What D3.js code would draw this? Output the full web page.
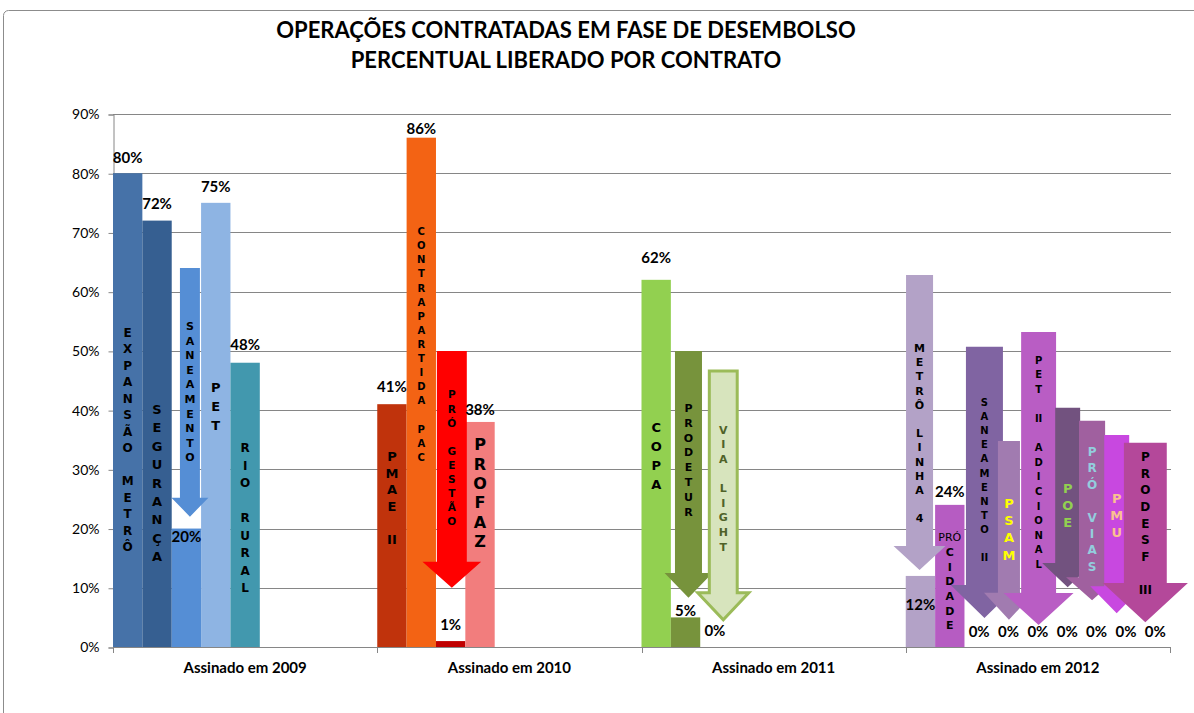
<!DOCTYPE html>
<html>
<head>
<meta charset="utf-8">
<script src="https://cdn.jsdelivr.net/npm/d3@7"></script>
<style>
  body { margin: 0; background: #fff; }
  text { fill: #000; }
</style>
</head>
<body>
<svg id="chart" width="1194" height="713"></svg>
<script>
var titleLines = ["OPERAÇÕES CONTRATADAS EM FASE DE DESEMBOLSO", "PERCENTUAL LIBERADO POR CONTRATO"];

var groups = ["Assinado em 2009", "Assinado em 2010", "Assinado em 2011", "Assinado em 2012"];

var contracts = ["EXPANSÃO METRÔ", "SEGURANÇA", "SANEAMENTO", "PET", "RIO RURAL",
  "PMAE II", "CONTRAPARTIDA PAC", "PRÓ GESTÃO", "PROFAZ",
  "COPA", "PRODETUR", "VIA LIGHT",
  "METRÔ LINHA 4", "PRÓ CIDADE", "SANEAMENTO II", "PSAM", "PET II ADICIONAL", "POE", "PRÓ VIAS", "PMU", "PRODESF III"];

var contractGroup = [0, 0, 0, 0, 0, 1, 1, 1, 1, 2, 2, 2, 3, 3, 3, 3, 3, 3, 3, 3, 3];

var released = [0.80, 0.72, 0.20, 0.75, 0.48,
  0.41, 0.86, 0.01, 0.38,
  0.62, 0.05, 0,
  0.12, 0.24, 0, 0, 0, 0, 0, 0, 0];

/* arrows drawn over some of the bars: where the shaft starts and where the tip lands */
var arrowFrom = [null, null, 0.64, null, null,
  null, null, 0.50, null,
  null, 0.50, 0.466,
  0.628, null, 0.507, 0.348, 0.532, 0.404, 0.382, 0.358, 0.345];
var arrowTo = [null, null, 0.22, null, null,
  null, null, 0.10, null,
  null, 0.083, 0.046,
  0.13, null, 0.049, 0.046, 0.037, 0.101, 0.079, 0.057, 0.042];

var yTicks = [0, 0.1, 0.2, 0.3, 0.4, 0.5, 0.6, 0.7, 0.8, 0.9];

var slotsPerGroup = 9;

/* styles: bar fill, arrow fill, letter colour */
var barColors = ["#4672a8", "#365f91", "#558ed5", "#8eb4e3", "#4298ae",
  "#c0330c", "#f36314", "#c00000", "#f27d7d",
  "#92d050", "#77933c", "#d7e4bd",
  "#b3a2c7", "#b65cc2", "#8064a2", "#a17bb0", "#b95dc4", "#72527f", "#a0609f", "#c848e0", "#b4489a"];
var arrowColors = [null, null, "#558ed5", null, null,
  null, null, "#ff0000", null,
  null, "#77933c", "#d7e4bd",
  "#b3a2c7", null, "#8064a2", "#a17bb0", "#b95dc4", "#72527f", "#a0609f", "#c848e0", "#b4489a"];
var letterColors = ["#000", "#000", "#000", "#000", "#000",
  "#000", "#000", "#000", "#000",
  "#000", "#000", "#4f6228",
  "#000", "#000", "#000", "#ffff00", "#000", "#92d050", "#93cddd", "#fac090", "#000"];

/* layout of the vertical words and arrows, hand placed like the original shapes:
   lc = centre of the word column (axis units), lh = line step, fs = font size,
   ld = value label offset from bar top, ao/aw = shaft offset/width, hw/hh = head size (in slot widths) */
var layout = [
  {lc: 0.350, lh: 16.5, fs: 12, ld: -16},
  {lc: 0.277, lh: 18.4, fs: 13, ld: -17},
  {lc: 0.431, lh: 14.6, fs: 11, ld: 8, ao: 0.28, aw: 0.68, hw: 1.26, hh: 0.65},
  {lc: 0.407, lh: 19, fs: 13, ld: -16},
  {lc: 0.218, lh: 17.5, fs: 12, ld: -18},
  {lc: 0.252, lh: 16.6, fs: 13, ld: -18},
  {lc: 0.511, lh: 14.1, fs: 10, ld: -9},
  {lc: 0.319, lh: 14.1, fs: 10.5, ld: -16, ao: 0.03, aw: 1.02, hw: 2.0, hh: 0.89},
  {lc: 0.260, lh: 19.4, fs: 16, ld: -12},
  {lc: 0.323, lh: 19, fs: 13, ld: -22},
  {lc: 0.316, lh: 14.8, fs: 11, ld: -7, ao: 0.14, aw: 0.92, hw: 1.63, hh: 0.85},
  {lc: 0.268, lh: 14.6, fs: 11, ld: -16, ao: 0.31, aw: 0.95, hw: 1.74, hh: 0.92, outline: "#9bbb59"},
  {lc: 0.361, lh: 14.2, fs: 11, ld: 29, ao: 0.01, aw: 0.92, hw: 1.77, hh: 0.82},
  {lc: 0.111, lh: 14.7, fs: 11, ld: -13, lead: true},
  {lc: 0.282, lh: 14.1, fs: 10, ld: -15, ao: 0.05, aw: 1.26, hw: 2.3, hh: 1.12},
  {lc: 0.199, lh: 17.3, fs: 13, ld: -15, ao: 0.14, aw: 0.75, hw: 1.7, hh: 0.92},
  {lc: 0.312, lh: 14.6, fs: 10, ld: -15, ao: -0.07, aw: 1.19, hw: 2.38, hh: 1.09},
  {lc: 0.240, lh: 17, fs: 13, ld: -15, ao: 0.09, aw: 0.85, hw: 1.74, hh: 0.82},
  {lc: 0.233, lh: 16.4, fs: 12, ld: -15, ao: -0.1, aw: 0.89, hw: 1.77, hh: 0.78},
  {lc: 0.223, lh: 17, fs: 13, ld: -15, ao: -0.24, aw: 0.85, hw: 1.8, hh: 0.92},
  {lc: 0.209, lh: 16.6, fs: 12, ld: -15, ao: -0.57, aw: 1.46, hw: 2.9, hh: 1.33}
];

var svg = d3.select("#chart");
var plotLeft = 113, plotRight = 1170, plotTop = 114, plotBottom = 647;
var gridColor = "#868686";
var numFont = "Lato, 'Open Sans', sans-serif";
var letterFont = "'DejaVu Sans', Verdana, sans-serif";

var x = d3.scaleBand().domain(groups).range([plotLeft, plotRight]);
var slot = d3.scaleBand().domain(d3.range(slotsPerGroup)).range([0, x.bandwidth()]);
var y = d3.scaleLinear().domain([0, 0.9]).range([plotBottom, plotTop]);
var bw = slot.bandwidth();

/* slot index of each contract inside its group */
var counter = {};
var items = contracts.map(function(name, i) {
  var g = contractGroup[i];
  counter[g] = (counter[g] || 0);
  var s = counter[g]++;
  return {name: name, i: i, group: groups[g], slot: s, value: released[i],
    from: arrowFrom[i], to: arrowTo[i], left: x(groups[g]) + slot(s)};
});

/* frame */
svg.append("rect")
  .attr("x", 3.5).attr("y", 10.5)
  .attr("width", 1200).attr("height", 710)
  .attr("rx", 5)
  .attr("fill", "#fff")
  .attr("stroke", "#8c8c8c");

/* title */
svg.append("g").selectAll("text").data(titleLines).enter().append("text")
  .attr("x", 566)
  .attr("y", function(d, i) { return 38 + i * 30; })
  .attr("text-anchor", "middle")
  .attr("font-family", numFont)
  .attr("font-weight", "bold")
  .attr("font-size", 22)
  .text(function(d) { return d; });

/* gridlines */
svg.append("g")
  .selectAll("line").data(yTicks.filter(function(d) { return d > 0; })).enter().append("line")
  .attr("x1", plotLeft).attr("x2", plotRight + 1)
  .attr("y1", function(d) { return Math.round(y(d)) + 0.5; })
  .attr("y2", function(d) { return Math.round(y(d)) + 0.5; })
  .attr("stroke", gridColor);

/* y axis */
var yAxis = svg.append("g")
  .attr("transform", "translate(" + (plotLeft + 0.5) + ",0.5)")
  .call(d3.axisLeft(y).tickValues(yTicks).tickFormat(d3.format(".0%")).tickSize(5).tickPadding(9));
yAxis.select(".domain").attr("stroke", gridColor);
yAxis.selectAll(".tick line").attr("stroke", gridColor);
yAxis.selectAll(".tick text").attr("font-family", numFont).attr("font-size", 14).attr("fill", "#000");

/* bars */
svg.append("g").selectAll("rect").data(items.filter(function(d) { return d.value > 0; })).enter().append("rect")
  .attr("x", function(d) { return d.left; })
  .attr("width", bw)
  .attr("y", function(d) { return y(d.value); })
  .attr("height", function(d) { return y(0) - y(d.value); })
  .attr("fill", function(d) { return barColors[d.i]; });

/* arrows */
function arrowPath(d) {
  var L = layout[d.i];
  var x0 = d.left + L.ao * bw, x1 = x0 + L.aw * bw, cx = (x0 + x1) / 2;
  var t = y(d.from), tip = y(d.to), ht = tip - L.hh * bw, hw = L.hw * bw / 2;
  return "M" + x0 + "," + t + "L" + x1 + "," + t + "L" + x1 + "," + ht +
    "L" + (cx + hw) + "," + ht + "L" + cx + "," + tip + "L" + (cx - hw) + "," + ht +
    "L" + x0 + "," + ht + "Z";
}
svg.append("g").selectAll("path").data(items.filter(function(d) { return d.from != null; })).enter().append("path")
  .attr("d", arrowPath)
  .attr("fill", function(d) { return arrowColors[d.i]; })
  .attr("stroke", function(d) { return layout[d.i].outline || "none"; })
  .attr("stroke-width", 3)
  .attr("stroke-linejoin", "miter");

/* x axis */
svg.append("line")
  .attr("x1", plotLeft).attr("x2", plotRight + 1)
  .attr("y1", plotBottom + 0.5).attr("y2", plotBottom + 0.5)
  .attr("stroke", gridColor);
svg.append("g").selectAll("line").data(groups.concat([null])).enter().append("line")
  .attr("x1", function(d) { return Math.round(d ? x(d) : plotRight) + 0.5; })
  .attr("x2", function(d) { return Math.round(d ? x(d) : plotRight) + 0.5; })
  .attr("y1", plotBottom).attr("y2", plotBottom + 6)
  .attr("stroke", gridColor);
var xAxis = svg.append("g")
  .attr("transform", "translate(0," + plotBottom + ")")
  .call(d3.axisBottom(x).tickSize(0).tickPadding(15));
xAxis.select(".domain").remove();
xAxis.selectAll(".tick text").attr("font-family", numFont).attr("font-size", 15)
  .attr("font-weight", "bold").attr("fill", "#000");

/* vertical words */
function wordLines(name, lead) {
  var lines = [];
  name.split(" ").forEach(function(w, k) {
    if (k === 0 && lead) { lines.push({t: w, plain: true}); return; }
    if (k > 0 && !(k === 1 && lead)) lines.push({t: ""});
    if (/^I+$/.test(w)) lines.push({t: w});
    else w.split("").forEach(function(c) { lines.push({t: c}); });
  });
  return lines;
}
items.forEach(function(d) {
  var L = layout[d.i];
  var lines = wordLines(d.name, L.lead);
  var cx = d.from != null ? d.left + (L.ao + L.aw / 2) * bw : d.left + bw / 2;
  var cy = y(L.lc);
  svg.append("g").selectAll("text").data(lines).enter().append("text")
    .attr("x", cx)
    .attr("y", function(l, k) { return cy + (k - (lines.length - 1) / 2) * L.lh; })
    .attr("dy", "0.36em")
    .attr("text-anchor", "middle")
    .attr("font-family", letterFont)
    .attr("font-weight", function(l) { return l.plain ? "normal" : "bold"; })
    .attr("font-size", function(l) { return l.plain ? L.fs : L.fs; })
    .style("fill", letterColors[d.i])
    .text(function(l) { return l.t; });
});

/* value labels */
svg.append("g").selectAll("text").data(items).enter().append("text")
  .attr("x", function(d) { return d.left + bw / 2; })
  .attr("y", function(d) { return y(d.value) + layout[d.i].ld; })
  .attr("dy", "0.36em")
  .attr("text-anchor", "middle")
  .attr("font-family", numFont)
  .attr("font-weight", "bold")
  .attr("font-size", 15)
  .text(function(d) { return d3.format(".0%")(d.value); });
</script>
</body>
</html>
